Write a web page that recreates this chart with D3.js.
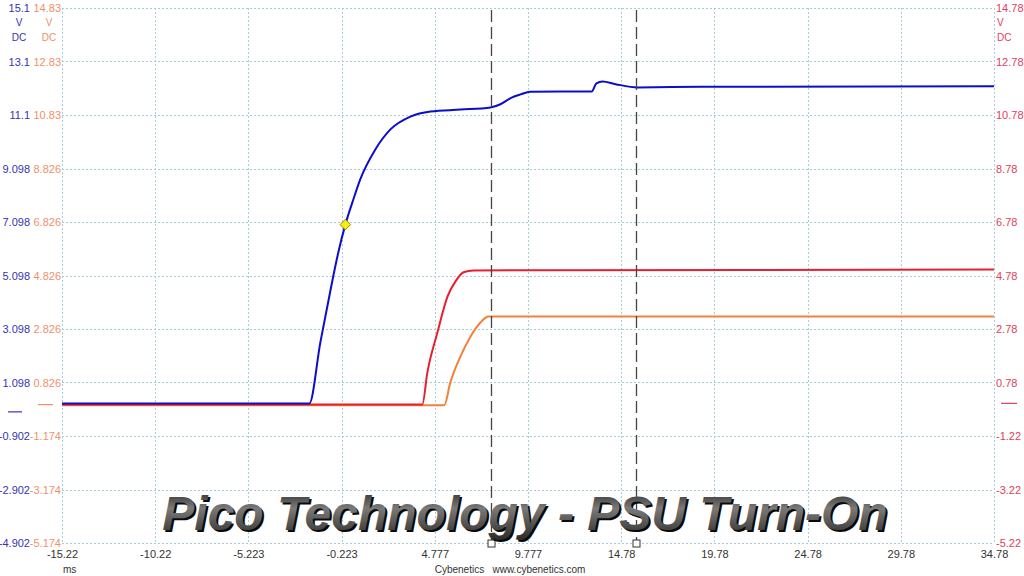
<!DOCTYPE html>
<html>
<head>
<meta charset="utf-8">
<script src="https://cdn.jsdelivr.net/npm/d3@7"></script>
<style>
  body { margin: 0; background: #fff; }
  svg { display: block; font-family: "Liberation Sans", "Noto Sans", sans-serif; }
</style>
</head>
<body>
<svg id="chart" width="1024" height="576"></svg>
<script>
// time axis (ms)
var xTicks = [-15.22, -10.22, -5.223, -0.223, 4.777, 9.777, 14.78, 19.78, 24.78, 29.78, 34.78];
var xLabels = ["-15.22", "-10.22", "-5.223", "-0.223", "4.777", "9.777", "14.78", "19.78", "24.78", "29.78", "34.78"];

// three voltage axes
var blueTicks = [15.098, 13.098, 11.098, 9.098, 7.098, 5.098, 3.098, 1.098, -0.902, -2.902, -4.902];
var blueLabels = ["15.1", "13.1", "11.1", "9.098", "7.098", "5.098", "3.098", "1.098", "-0.902", "-2.902", "-4.902"];
var orangeTicks = [14.826, 12.826, 10.826, 8.826, 6.826, 4.826, 2.826, 0.826, -1.174, -3.174, -5.174];
var orangeLabels = ["14.83", "12.83", "10.83", "8.826", "6.826", "4.826", "2.826", "0.826", "-1.174", "-3.174", "-5.174"];
var redTicks = [14.78, 12.78, 10.78, 8.78, 6.78, 4.78, 2.78, 0.78, -1.22, -3.22, -5.22];
var redLabels = ["14.78", "12.78", "10.78", "8.78", "6.78", "4.78", "2.78", "0.78", "-1.22", "-3.22", "-5.22"];

// traces: time (ms) / volts
var blueT = [-15.22, -1.95, -1.36, -0.83, -0.40, -0.02, 0.41, 0.78, 1.59, 2.40, 3.47, 4.55, 6.16, 7.77, 8.3, 8.9, 9.38, 9.91, 13.2, 13.45, 13.78, 14.48, 15.66, 19.04, 34.78];
var blueV = [0.31, 0.31, 2.6, 4.5, 5.95, 7.0, 7.94, 8.69, 9.81, 10.56, 11.04, 11.23, 11.30, 11.38, 11.5, 11.75, 11.87, 11.97, 11.98, 12.28, 12.35, 12.25, 12.13, 12.15, 12.17];
var redT = [-15.22, 4.11, 4.38, 4.92, 5.46, 5.89, 6.32, 6.85, 34.78];
var redV = [-0.04, -0.04, 1.15, 2.65, 3.99, 4.56, 4.90, 4.97, 5.0];
var orangeT = [-15.22, 5.29, 5.61, 6.15, 6.69, 7.23, 7.66, 34.78];
var orangeV = [-0.02, -0.02, 0.82, 1.79, 2.54, 3.07, 3.29, 3.29];

var triggerT = -0.02, triggerV = 7.0;
var cursors = [7.8, 15.6];

var plotLeft = 62, plotRight = 994, plotTop = 8, plotBottom = 543;
var svg = d3.select("#chart");

var x = d3.scaleLinear().domain([-15.22, 34.78]).range([plotLeft, plotRight]);
var yBlue = d3.scaleLinear().domain([-4.902, 15.098]).range([plotBottom, plotTop]);
var yOrange = d3.scaleLinear().domain([-5.174, 14.826]).range([plotBottom, plotTop]);
var yRed = d3.scaleLinear().domain([-5.22, 14.78]).range([plotBottom, plotTop]);

// grid
var grid = svg.append("g")
    .attr("stroke", "#a9cdd6")
    .attr("stroke-dasharray", "2,2")
    .attr("stroke-width", 1);
grid.selectAll(".v").data(xTicks).enter().append("line")
    .attr("x1", function(d) { return Math.round(x(d)) + 0.5; })
    .attr("x2", function(d) { return Math.round(x(d)) + 0.5; })
    .attr("y1", plotTop).attr("y2", plotBottom);
grid.selectAll(".h").data(blueTicks).enter().append("line")
    .attr("y1", function(d) { return Math.round(yBlue(d)) + 0.5; })
    .attr("y2", function(d) { return Math.round(yBlue(d)) + 0.5; })
    .attr("x1", plotLeft).attr("x2", plotRight);

// axes (labels only)
function labelAxis(axis, labels, color, tx) {
    var g = svg.append("g").attr("transform", tx).call(axis.tickSize(0).tickPadding(2)
        .tickFormat(function(d, i) { return labels[i]; }));
    g.select(".domain").remove();
    g.selectAll("text").attr("fill", color).style("font-size", "11px")
        .style("font-family", "'Liberation Sans', sans-serif");
    return g;
}
labelAxis(d3.axisLeft(yBlue).tickValues(blueTicks), blueLabels, "#3434b4", "translate(32,0)");
labelAxis(d3.axisLeft(yOrange).tickValues(orangeTicks), orangeLabels, "#f0906a", "translate(63,0)");
labelAxis(d3.axisRight(yRed).tickValues(redTicks), redLabels, "#e0405e", "translate(994,0)");
labelAxis(d3.axisBottom(x).tickValues(xTicks), xLabels, "#333", "translate(0," + (plotBottom + 5) + ")");

// units
function unit(xp, color, anchor) {
    svg.append("text").attr("x", xp).attr("y", 26).attr("text-anchor", anchor)
        .attr("fill", color).style("font-size", "10px").text("V");
    svg.append("text").attr("x", xp).attr("y", 41).attr("text-anchor", anchor)
        .attr("fill", color).style("font-size", "10px").text("DC");
}
unit(19, "#3434b4", "middle");
unit(49, "#f0906a", "middle");
unit(997, "#e0405e", "start");

// zero markers
svg.append("line").attr("x1", 8).attr("x2", 22).attr("y1", yBlue(0)).attr("y2", yBlue(0))
    .attr("stroke", "#3434b4").attr("stroke-width", 1.2);
svg.append("line").attr("x1", 38).attr("x2", 53).attr("y1", yOrange(0)).attr("y2", yOrange(0))
    .attr("stroke", "#f0906a").attr("stroke-width", 1.2);
svg.append("line").attr("x1", 1001).attr("x2", 1017).attr("y1", yRed(0)).attr("y2", yRed(0))
    .attr("stroke", "#e0405e").attr("stroke-width", 1.2);

svg.append("text").attr("x", 63).attr("y", 573).attr("fill", "#333").style("font-size", "10px").text("ms");
svg.append("text").attr("x", 510).attr("y", 573).attr("text-anchor", "middle").attr("fill", "#333")
    .style("font-size", "10px").attr("xml:space", "preserve").text("Cybenetics   www.cybenetics.com");

// traces
function trace(ts, vs, y, color) {
    var pts = ts.map(function(t, i) { return [t, vs[i]]; });
    var line = d3.line().x(function(d) { return x(d[0]); }).y(function(d) { return y(d[1]); })
        .curve(d3.curveMonotoneX);
    svg.append("path").datum(pts).attr("d", line).attr("fill", "none")
        .attr("stroke", color).attr("stroke-width", 2);
}
trace(orangeT, orangeV, yOrange, "#f2813a");
trace(redT, redV, yRed, "#e8202e");
trace(blueT, blueV, yBlue, "#0c0ccc");

// trigger diamond
svg.append("path")
    .attr("d", d3.symbol().type(d3.symbolDiamond2).size(70))
    .attr("transform", "translate(" + x(triggerT) + "," + yBlue(triggerV) + ")")
    .attr("fill", "#f4ef10").attr("stroke", "#9a8a00");

// cursors
svg.selectAll(".cur").data(cursors).enter().append("line")
    .attr("x1", function(d) { return Math.round(x(d)) + 0.5; })
    .attr("x2", function(d) { return Math.round(x(d)) + 0.5; })
    .attr("y1", 10).attr("y2", plotBottom)
    .attr("stroke", "#444").attr("stroke-width", 1.3).attr("stroke-dasharray", "12,5");
svg.selectAll(".curbox").data(cursors).enter().append("rect")
    .attr("x", function(d) { return Math.round(x(d)) - 3; })
    .attr("y", plotBottom - 3).attr("width", 7).attr("height", 7)
    .attr("fill", "#fff").attr("stroke", "#333");

// title
var defs = svg.append("defs");
var grad = defs.append("linearGradient").attr("id", "tg").attr("x1", 0).attr("y1", 0).attr("x2", 0).attr("y2", 1);
grad.append("stop").attr("offset", "0%").attr("stop-color", "#222");
grad.append("stop").attr("offset", "40%").attr("stop-color", "#7a7a7a");
grad.append("stop").attr("offset", "100%").attr("stop-color", "#2a2a2a");
var title = "Pico Technology - PSU Turn-On";
svg.append("text").attr("x", 527).attr("y", 532).attr("text-anchor", "middle")
    .style("font-family", "'Liberation Sans', Arial, sans-serif").style("font-size", "48px")
    .style("font-weight", "bold").style("font-style", "italic").attr("fill", "#0a0a0a").text(title);
svg.append("text").attr("x", 525).attr("y", 530).attr("text-anchor", "middle")
    .style("font-family", "'Liberation Sans', Arial, sans-serif").style("font-size", "48px")
    .style("font-weight", "bold").style("font-style", "italic").attr("fill", "url(#tg)").text(title);
</script>
</body>
</html>
